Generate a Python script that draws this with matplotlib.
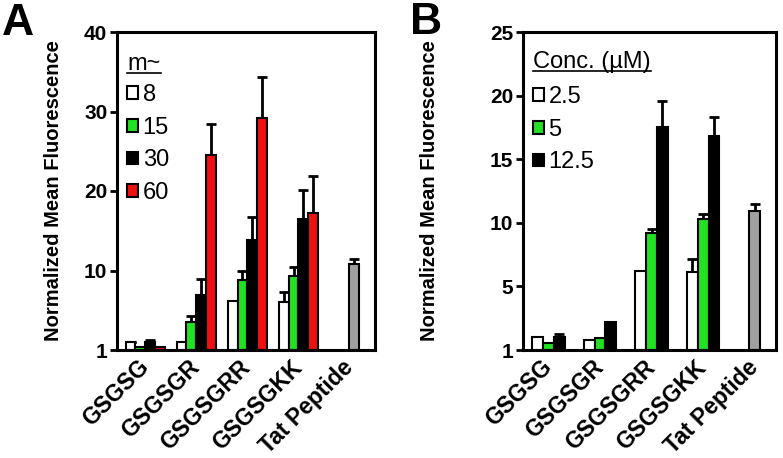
import matplotlib
matplotlib.use("Agg")
import matplotlib.pyplot as plt
from matplotlib.lines import Line2D

plt.rcParams['font.family'] = ['Liberation Sans', 'DejaVu Sans']

# panel A data (bottom of axis is labelled "1")
peptides = ['GSGSG', 'GSGSGR', 'GSGSGRR', 'GSGSGKK', 'Tat Peptide']
times = ['8', '15', '30', '60']
a_vals = [[1.05, 1.0, 6.2, 6.1],
          [0.4, 3.55, 8.8, 9.3],
          [1.0, 6.95, 13.8, 16.5],
          [0.4, 24.5, 29.2, 17.2]]
a_err = [[0.0, 0.0, 0.0, 1.2],
         [0.0, 0.75, 1.15, 1.2],
         [0.2, 1.95, 2.9, 3.6],
         [0.0, 3.9, 5.1, 4.7]]
a_tat = 10.8
a_tat_err = 0.6
a_ticks = [0, 10, 20, 30, 40]
a_ticklabels = ['1', '10', '20', '30', '40']

# panel B data
concs = ['2.5', '5', '12.5']
b_vals = [[1.0, 0.8, 6.2, 6.15],
          [0.55, 0.97, 9.2, 10.3],
          [1.0, 2.2, 17.5, 16.85]]
b_err = [[0.0, 0.0, 0.0, 1.0],
         [0.0, 0.0, 0.3, 0.4],
         [0.23, 0.0, 2.1, 1.45],
         ]
b_tat = 10.9
b_tat_err = 0.55
b_ticks = [0, 5, 10, 15, 20, 25]
b_ticklabels = ['1', '5', '10', '15', '20', '25']

a_colors = ['white', '#22e022', 'black', '#ee1111']
b_colors = ['white', '#22e022', 'black']
tat_color = '#a0a0a0'

fig = plt.figure(figsize=(7.83, 4.58), dpi=100)
axA = fig.add_axes([117/783, 1-350/458, 258/783, 318/458])
axB = fig.add_axes([523/783, 1-350/458, 253/783, 318/458])


def panel(ax, vals, errs, colors, names, tat, tat_err, width, tat_slot, title,
          ticks, ticklabels, ymax, xlim, labelpad, title_y, leg_y):
    n = len(vals)
    handles = []
    for i in range(n):
        xs = [g + (i - (n - 1) / 2) * width for g in range(4)]
        b = ax.bar(xs, vals[i], width, color=colors[i], edgecolor='black',
                   linewidth=1.5, zorder=2)
        handles.append(b)
        ax.errorbar(xs, vals[i], yerr=[[0]*4, errs[i]], fmt='none',
                    ecolor='black', elinewidth=2, capsize=3.5, capthick=2,
                    zorder=1)
    xt = 4 + (tat_slot - (n - 1) / 2) * width
    ax.bar([xt], [tat], width, color=tat_color, edgecolor='black',
           linewidth=1.5, zorder=2)
    ax.errorbar([xt], [tat], yerr=[[0], [tat_err]], fmt='none', ecolor='black',
                elinewidth=2, capsize=3.5, capthick=2, zorder=1)

    ax.set_xlim(*xlim)
    ax.set_ylim(0, ymax)
    ax.set_yticks(ticks)
    ax.set_yticklabels(ticklabels, fontsize=15, fontweight='bold')
    ax.set_xticks(range(5))
    ax.set_xticklabels(peptides, rotation=45, ha='right', va='center',
                       rotation_mode='anchor', fontsize=16.5, fontweight='bold')
    ax.tick_params(axis='x', length=0, pad=10)
    ax.tick_params(axis='y', length=5, width=2, pad=2)
    for s in ax.spines.values():
        s.set_linewidth(2.2)
    ax.set_ylabel('Normalized Mean Fluorescence', fontsize=14.5,
                  fontweight='bold', labelpad=labelpad)

    t = ax.text(0.04, title_y, title, transform=ax.transAxes, fontsize=17,
                va='center', ha='left')
    ax.legend(handles, names, loc='upper left',
              bbox_to_anchor=(0.04, leg_y), frameon=False, fontsize=17,
              handlelength=0.45, handleheight=0.45, handletextpad=0.2,
              labelspacing=0.45, borderaxespad=0, borderpad=0)
    return t


tA = panel(axA, a_vals, a_err, a_colors, times, a_tat, a_tat_err, 0.19, 2,
           'm~', a_ticks, a_ticklabels, 40, (-0.55, 4.5), 15, 0.899, 0.836)
tB = panel(axB, b_vals, b_err, b_colors, concs, b_tat, b_tat_err, 0.21, 1,
           'Conc. (\u00b5M)', b_ticks, b_ticklabels, 25, (-0.49, 4.41), 37,
           0.906, 0.83)

fig.text(0.002, 0.993, 'A', fontsize=32, fontweight='bold', va='top')
fig.text(410/783, 0.995, 'B', fontsize=32, fontweight='bold', va='top')

# underline legend titles
fig.canvas.draw()
for t in [tA, tB]:
    bb = t.get_window_extent().transformed(fig.transFigure.inverted())
    fig.add_artist(Line2D([bb.x0, bb.x1], [bb.y0 + 0.004, bb.y0 + 0.004],
                          color='black', linewidth=1.2))

fig.savefig('out.png', dpi=100)
